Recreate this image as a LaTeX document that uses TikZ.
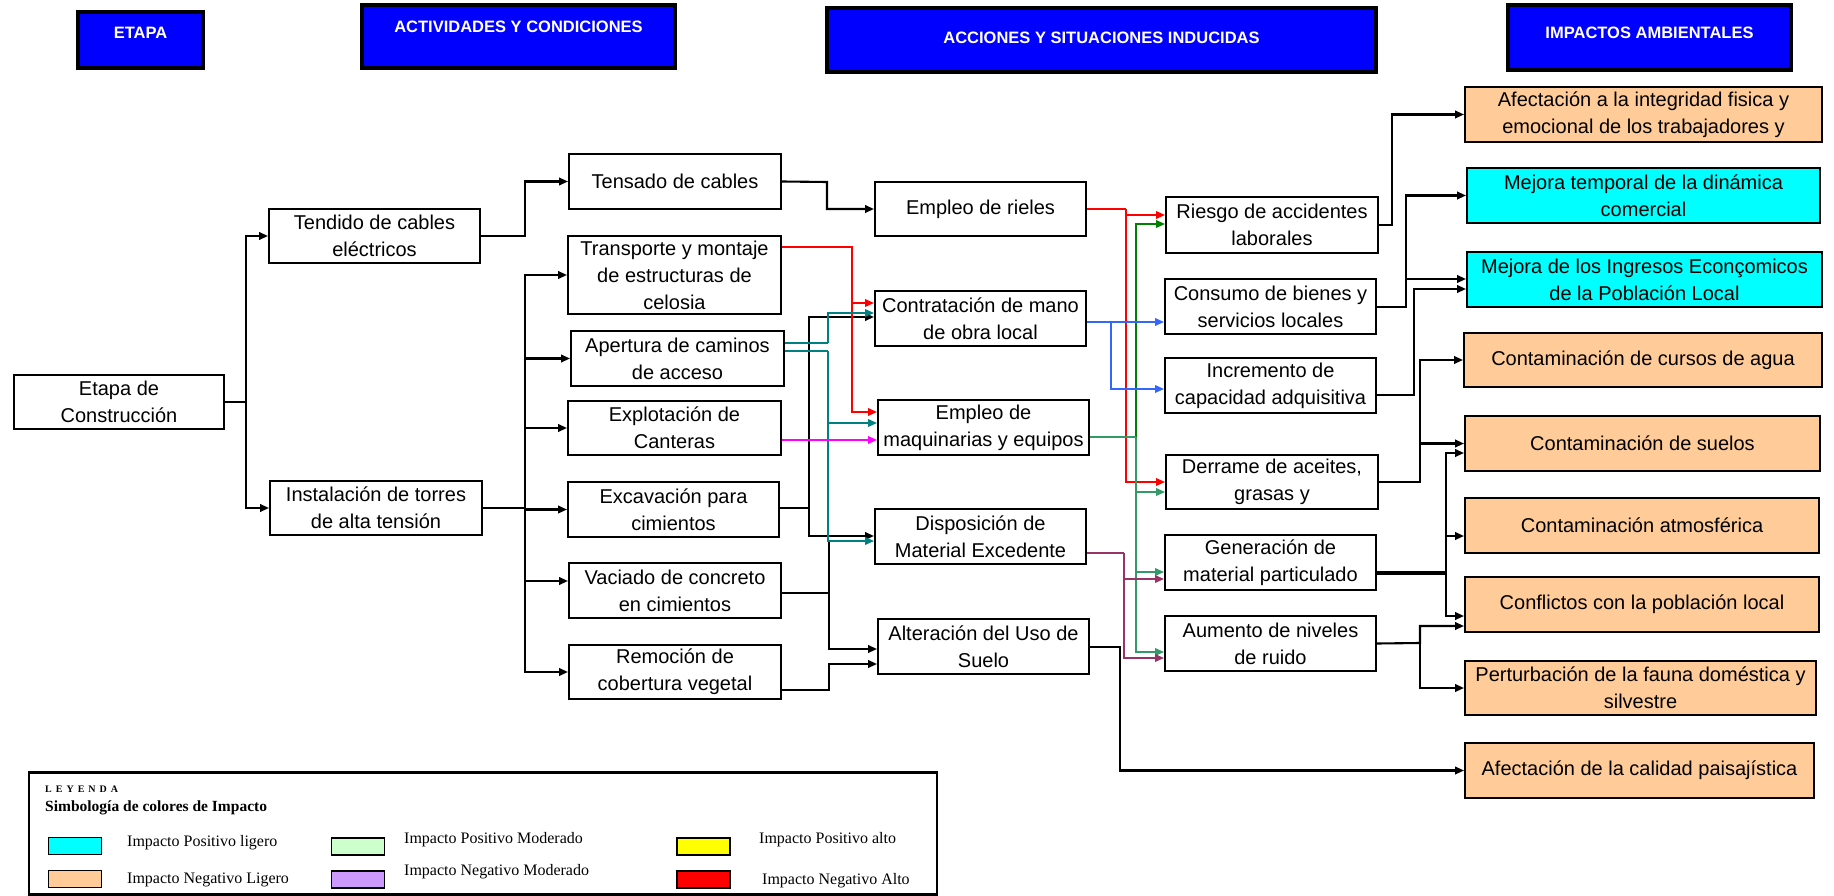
\documentclass[tikz,border=0pt]{standalone}
\usepackage{fontspec}
\setmainfont{Liberation Sans}
\newfontfamily\legfont{Liberation Serif}
\newfontfamily\legspaced[LetterSpace=40]{Liberation Serif}
\usetikzlibrary{arrows.meta}
\definecolor{hblue}{RGB}{0,0,255}
\definecolor{orangebox}{RGB}{255,204,153}
\definecolor{cyanbox}{RGB}{0,255,255}
\definecolor{lteal}{RGB}{0,128,128}
\definecolor{lblue}{RGB}{51,102,255}
\definecolor{lgreen}{RGB}{0,128,0}
\definecolor{lsea}{RGB}{51,153,102}
\definecolor{lmaroon}{RGB}{153,51,102}
\definecolor{lmag}{RGB}{255,0,255}
\definecolor{lred}{RGB}{255,0,0}
\definecolor{legreen}{RGB}{204,255,204}
\definecolor{lepurple}{RGB}{204,153,255}
\definecolor{leyellow}{RGB}{255,255,0}
\begin{document}
\begin{tikzpicture}[x=1pt,y=-1pt,
  box/.style={draw=black, line width=1.9pt, fill=white, inner sep=0pt, align=center, font=\fontsize{20}{27}\selectfont},
  sz/.style 2 args={minimum width=#1pt, minimum height=#2pt},
  negbox/.style={fill=orangebox},
  posbox/.style={fill=cyanbox},
  header/.style={draw=black, line width=3.8pt, fill=hblue, inner sep=0pt},
  htext/.style={text=white, font=\fontsize{16.5}{20}\selectfont\bfseries, inner sep=0pt},
  ln/.style={line width=2.1pt},
  con/.style={line width=2.1pt, -{Triangle[length=9pt,width=7.5pt]}},
  cln/.style={line width=1.8pt},
  ccon/.style={line width=1.8pt, -{Triangle[length=9pt,width=7.5pt]}},
  swatch/.style={draw=black, line width=1.2pt, inner sep=0pt, minimum width=53pt, minimum height=17pt},
  legtext/.style={font=\legfont\fontsize{16}{18}\selectfont, inner sep=0pt, anchor=base west}
]
\useasboundingbox (0,0) rectangle (1834,896);

% headers
\node[header, sz={125}{56}] (hEtapa) at (140.5,40) {};
\node[header, sz={313}{63}] (hAct) at (518.5,36.5) {};
\node[header, sz={549}{64}] (hAcc) at (1101.5,40) {};
\node[header, sz={283}{65}] (hImp) at (1649.5,37.5) {};
\node[htext] (tEtapa) at (140.5,33) {ETAPA};
\node[htext] (tAct) at (518.5,27) {ACTIVIDADES Y CONDICIONES};
\node[htext] (tAcc) at (1101.5,38) {ACCIONES Y SITUACIONES INDUCIDAS};
\node[htext] (tImp) at (1649.5,33) {IMPACTOS AMBIENTALES};

% stage and activities
\node[box, sz={210}{54}] (etapa) at (119,402) {Etapa de\\Construcción};
\node[box, sz={211}{54}] (tendido) at (374.5,236) {Tendido de cables\\eléctricos};
\node[box, sz={212}{54}] (instal) at (376,508) {Instalación de torres\\de alta tensión};
\node[box, sz={212}{55}] (tensado) at (675,181.5) {Tensado de cables};
\node[box, sz={213}{78}] (transp) at (674.5,275) {Transporte y montaje\\de estructuras de\\celosia};
\node[box, sz={213}{55}] (apert) at (677.5,358.5) {Apertura de caminos\\de acceso};
\node[box, sz={213}{54}] (explot) at (674.5,428) {Explotación de\\Canteras};
\node[box, sz={211}{55}] (excav) at (673.5,509.5) {Excavación para\\cimientos};
\node[box, sz={212}{55}] (vaciado) at (675,590.5) {Vaciado de concreto\\en cimientos};
\node[box, sz={212}{54}] (remoc) at (675,672) {Remoción de\\cobertura vegetal};

% actions
\node[box, sz={211}{54}] (rieles) at (980.5,209) {Empleo de rieles};
\node[box, sz={211}{55}] (contrat) at (980.5,318.5) {Contratación de mano\\de obra local};
\node[box, sz={211}{55}] (maq) at (983.5,427.5) {Empleo de\\maquinarias y equipos};
\node[box, sz={211}{55}] (dispos) at (980.5,536.5) {Disposición de\\Material Excedente};
\node[box, sz={211}{55}] (alter) at (983.5,646.5) {Alteración del Uso de\\Suelo};

% situations
\node[box, sz={212}{56}] (riesgo) at (1272,225) {Riesgo de accidentes\\laborales};
\node[box, sz={211}{55}] (consumo) at (1270.5,306.5) {Consumo de bienes y\\servicios locales};
\node[box, sz={211}{55}] (increm) at (1270.5,385.5) {Incremento de\\capacidad adquisitiva};
\node[box, sz={212}{54}] (derrame) at (1272,482) {Derrame de aceites,\\grasas y};
\node[box, sz={211}{55}] (genera) at (1270.5,562.5) {Generación de\\material particulado};
\node[box, sz={211}{55}] (aumento) at (1270.5,643.5) {Aumento de niveles\\de ruido};

% impacts
\node[box, negbox, sz={357}{55}] (i1) at (1643.5,114.5) {Afectación a la integridad fisica y\\emocional de los trabajadores y};
\node[box, posbox, sz={353}{55}] (i2) at (1643.5,195.5) {Mejora temporal de la dinámica\\comercial};
\node[box, posbox, sz={355}{55}] (i3) at (1644.5,279.5) {Mejora de los Ingresos Econçomicos\\de la Población Local};
\node[box, negbox, sz={358}{54}] (i4) at (1643,360) {Contaminación de cursos de agua};
\node[box, negbox, sz={355}{55}] (i5) at (1642.5,443.5) {Contaminación de suelos};
\node[box, negbox, sz={354}{55}] (i6) at (1642,525.5) {Contaminación atmosférica};
\node[box, negbox, sz={354}{55}] (i7) at (1642,604.5) {Conflictos con la población local};
\node[box, negbox, sz={351}{54}] (i8) at (1640.5,688) {Perturbación de la fauna doméstica y\\silvestre};
\node[box, negbox, sz={349}{55}] (i9) at (1639.5,770.5) {Afectación de la calidad paisajística};

% ---- black connectors
\coordinate (j1) at (246,402);
\draw[ln] (etapa.east) -- (j1);
\draw[con] (j1) |- (tendido.west);
\draw[con] (j1) |- (instal.west);
\coordinate (j2) at (525,236);
\draw[con] (tendido.east) -- (j2) |- (tensado.west);
\coordinate (bus) at (525,508);
\draw[line width=2.8pt] (instal.east) -- (bus);
\draw[con] (bus) |- (transp.west);
\draw[con] (bus) |- (apert.west);
\draw[con] (bus) |- (explot.west);
\draw[con] (bus) |- (excav.west);
\draw[con] (bus) |- (vaciado.west |- 0,581);
\draw[con] (bus) |- (remoc.west);
\coordinate (j3) at (827,182);
\draw[con] (tensado.east) -- (j3) |- (rieles.west);
\coordinate (k1) at (809,508);
\draw[ln] (excav.east |- k1) -- (k1);
\draw[con] (k1) |- (contrat.west |- 0,317);
\draw[con] (k1) |- (dispos.west |- 0,536);
\coordinate (v1) at (829,593);
\coordinate (v0) at (829,540);
\draw[ln] (vaciado.east |- v1) -- (v1);
\draw[con] (v0) |- (alter.west |- 0,649);
\coordinate (m1) at (829,690);
\draw[con] (remoc.east |- m1) -- (m1) |- (alter.west |- 0,664);
\coordinate (a1) at (1120,647);
\draw[con] (alter.east |- a1) -- (a1) |- (i9.west);
\coordinate (q1) at (1392,225);
\draw[con] (riesgo.east) -- (q1) |- (i1.west);
\coordinate (q2) at (1406,307);
\draw[con] (consumo.east |- q2) -- (q2) |- (i2.west);
\draw[con] (q2) |- (i3.west |- 0,279);
\coordinate (q3) at (1414,395);
\draw[con] (increm.east |- q3) -- (q3) |- (i3.west |- 0,289);
\coordinate (q4) at (1420,482);
\draw[con] (derrame.east) -- (q4) |- (i4.west);
\draw[con] (q4) |- (i5.west);
\coordinate (q5) at (1446,573);
\draw[line width=3.4pt] (genera.east |- q5) -- (q5);
\draw[con] (q5) |- (i5.west |- 0,453);
\draw[con] (q5) |- (i6.west |- 0,536);
\draw[con] (q5) |- (i7.west |- 0,616);
\coordinate (q6) at (1420,643);
\draw[con] (aumento.east) -- (q6) |- (i7.west |- 0,626);
\draw[con] (q6) |- (i8.west);

% ---- coloured connectors
\coordinate (r1) at (852,247);
\draw[ccon, lred] (transp.east |- r1) -- (r1) |- (contrat.west |- 0,303);
\draw[ccon, lred] (r1) |- (maq.west |- 0,412);
\coordinate (t1) at (828,343);
\coordinate (t2) at (828,351);
\draw[cln, lteal] (apert.east |- t1) -- (t1);
\draw[cln, lteal] (apert.east |- t2) -- (t2);
\draw[ccon, lteal] (t1) |- (contrat.west |- 0,313);
\draw[ccon, lteal] (t2) |- (maq.west |- 0,423);
\draw[ccon, lteal] (t2) |- (dispos.west |- 0,541);
\draw[ccon, lmag] (explot.east |- 0,440) -- (maq.west |- 0,440);
\coordinate (c1) at (1126,209);
\draw[cln, lred] (rieles.east) -- (c1);
\draw[ccon, lred] (c1) |- (riesgo.west |- 0,215);
\draw[ccon, lred] (c1) |- (derrame.west |- 0,482);
\coordinate (g1) at (1136,437);
\draw[ccon, lgreen] (g1) |- (riesgo.west |- 0,224);
\draw[cln, lsea] (maq.east |- g1) -- (g1);
\draw[ccon, lsea] (g1) |- (derrame.west |- 0,492);
\draw[ccon, lsea] (g1) |- (genera.west |- 0,572);
\draw[ccon, lsea] (g1) |- (aumento.west |- 0,652);
\coordinate (b1) at (1111,322);
\draw[ccon, lblue] (contrat.east |- b1) -- (consumo.west |- b1);
\draw[ccon, lblue] (b1) |- (increm.west |- 0,389);
\coordinate (p1) at (1124,553);
\draw[cln, lmaroon] (dispos.east |- p1) -- (p1);
\draw[ccon, lmaroon] (p1) |- (genera.west |- 0,579);
\draw[ccon, lmaroon] (p1) |- (aumento.west |- 0,658);

% ---- legend
\node[draw=black, line width=2.2pt, inner sep=0pt, minimum width=908pt, minimum height=122pt] (legend) at (483,833.5) {};
\node[legtext, font=\legspaced\bfseries\fontsize{10}{12}\selectfont] (legT) at (45,792) {LEYENDA};
\node[legtext, font=\legfont\bfseries\fontsize{15.5}{18}\selectfont] (legS) at (45,811) {Simbología de colores de Impacto};
\node[swatch, fill=cyanbox] (s1) at (75,846) {};
\node[swatch, fill=legreen] (s2) at (358,846.5) {};
\node[swatch, fill=leyellow] (s3) at (703.5,846.5) {};
\node[swatch, fill=orangebox] (s4) at (75,879) {};
\node[swatch, fill=lepurple] (s5) at (358,879.5) {};
\node[swatch, fill=lred] (s6) at (703.5,879.5) {};
\node[legtext] (l1) at (127,846) {Impacto Positivo ligero};
\node[legtext] (l2) at (404,843) {Impacto Positivo Moderado};
\node[legtext] (l3) at (759,843) {Impacto Positivo alto};
\node[legtext] (l4) at (127,883) {Impacto Negativo Ligero};
\node[legtext] (l5) at (404,875) {Impacto Negativo Moderado};
\node[legtext] (l6) at (762,884) {Impacto Negativo Alto};
\end{tikzpicture}
\end{document}
